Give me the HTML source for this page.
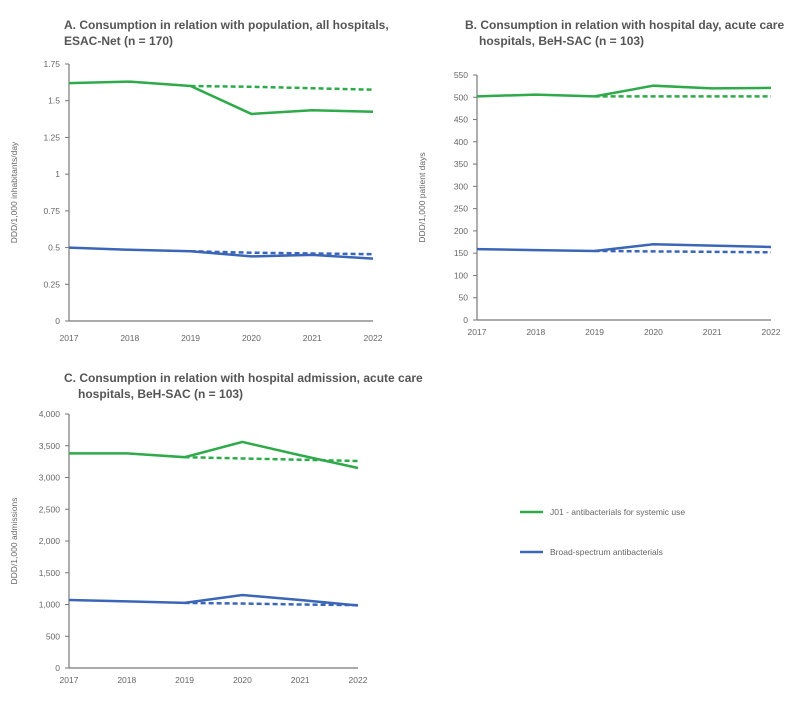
<!DOCTYPE html>
<html><head><meta charset="utf-8"><style>
body{margin:0;background:#fff;width:800px;height:712px;overflow:hidden}
svg text{font-family:"Liberation Sans",sans-serif;fill:#666}
.t{font-weight:bold;font-size:12px;fill:#555}
.k{font-size:8.5px}
</style></head><body>
<svg id="s" width="800" height="712">
<text class="t" x="64" y="29">A. Consumption in relation with population, all hospitals,</text>
<text class="t" x="64" y="45">ESAC-Net (n = 170)</text>
<text class="t" x="465" y="29">B. Consumption in relation with hospital day, acute care</text>
<text class="t" x="479" y="45">hospitals, BeH-SAC (n = 103)</text>
<text class="t" x="64" y="382">C. Consumption in relation with hospital admission, acute care</text>
<text class="t" x="78" y="398">hospitals, BeH-SAC (n = 103)</text>
<line x1="520" y1="512" x2="543" y2="512" stroke="#2eaa4a" stroke-width="2.5"/>
<text class="k" x="550" y="515">J01 - antibacterials for systemic use</text>
<line x1="520" y1="552" x2="543" y2="552" stroke="#3b66b8" stroke-width="2.5"/>
<text class="k" x="550" y="555">Broad-spectrum antibacterials</text>
</svg>
<script>
const years=["2017","2018","2019","2020","2021","2022"];
const aGreen=[1.62,1.63,1.60,1.41,1.435,1.425];
const aGreenDash=[1.60,1.595,1.585,1.575];
const aBlue=[0.50,0.485,0.475,0.44,0.45,0.425];
const aBlueDash=[0.475,0.465,0.46,0.455];
const aTicks=["0","0.25","0.5","0.75","1","1.25","1.5","1.75"];
const aTickVals=[0,0.25,0.5,0.75,1,1.25,1.5,1.75];
const bGreen=[502,506,502,526,520,521];
const bGreenDash=[502,502,502,502];
const bBlue=[159,157,155,170,167,164];
const bBlueDash=[155,154,153,152];
const bTickVals=[0,50,100,150,200,250,300,350,400,450,500,550];
const bTicks=["0","50","100","150","200","250","300","350","400","450","500","550"];
const cGreen=[3380,3380,3320,3560,3350,3150];
const cGreenDash=[3320,3300,3280,3260];
const cBlue=[1070,1050,1025,1150,1070,985];
const cBlueDash=[1025,1015,1000,990];
const cTickVals=[0,500,1000,1500,2000,2500,3000,3500,4000];
const cTicks=["0","500","1,000","1,500","2,000","2,500","3,000","3,500","4,000"];

const s=document.getElementById('s');const NS="http://www.w3.org/2000/svg";
function mk(tag,at){const e=document.createElementNS(NS,tag);for(const k in at)e.setAttribute(k,at[k]);s.appendChild(e);return e;}
function panel(id,cfg){
  const {x0,x1,yTop,yBot,max,tv,tl,yl,ylab,series}=cfg;
  const X=i=>x0+(x1-x0)*i/(years.length-1);
  const Y=v=>yBot-(yBot-yTop)*v/max;
  let e=mk('line',{x1:x0,y1:yTop,x2:x0,y2:yBot,stroke:'#777','stroke-width':1.2});
  
  
  e=mk('line',{x1:x0,y1:yBot,x2:x1,y2:yBot,stroke:'#777','stroke-width':1.2});
  
  
  tv.forEach((v,i)=>{
    let t=mk('line',{x1:x0-4,y1:Y(v),x2:x0,y2:Y(v),stroke:'#777'});
    
    
    let l=mk('text',{x:x0-9,y:Y(v)+3,'text-anchor':'end',class:'k'});l.textContent=tl[i];
    
    
  });
  years.forEach((yr,i)=>{
    let l=mk('text',{x:X(i),y:yl,'text-anchor':'middle',class:'k'});l.textContent=yr;
    
    
  });
  const cy=(yTop+yBot)/2;
  let t=mk('text',{x:0,y:0,'text-anchor':'middle',class:'k',transform:`translate(${x0-52},${cy}) rotate(-90)`});t.textContent=ylab;
  
  
  series.forEach(([vals,col,dash,off,nm])=>{
    const pts=vals.map((v,i)=>X(i+off)+','+Y(v)).join(' ');
    const a={points:pts,fill:'none',stroke:col,'stroke-width':2.5};
    if(dash)a['stroke-dasharray']='5,3';
    let p=mk('polyline',a);
    
    
  });
}
const G='#2eaa4a',B='#3b66b8';
panel('chart-a',{x0:69,x1:373,yTop:64,yBot:321,max:1.75,tv:aTickVals,tl:aTicks,yl:341,ylab:'DDD/1,000 inhabitants/day',
 series:[[aGreenDash,G,1,2,'j01-expected'],[aBlueDash,B,1,2,'broad-expected'],[aGreen,G,0,0,'j01-line'],[aBlue,B,0,0,'broad-line']]});
panel('chart-b',{x0:477,x1:771,yTop:75,yBot:320,max:550,tv:bTickVals,tl:bTicks,yl:335,ylab:'DDD/1,000 patient days',
 series:[[bGreenDash,G,1,2,'j01-expected'],[bBlueDash,B,1,2,'broad-expected'],[bGreen,G,0,0,'j01-line'],[bBlue,B,0,0,'broad-line']]});
panel('chart-c',{x0:69,x1:358,yTop:414,yBot:668,max:4000,tv:cTickVals,tl:cTicks,yl:683,ylab:'DDD/1,000 admissions',
 series:[[cGreenDash,G,1,2,'j01-expected'],[cBlueDash,B,1,2,'broad-expected'],[cGreen,G,0,0,'j01-line'],[cBlue,B,0,0,'broad-line']]});
</script>
</body></html>
